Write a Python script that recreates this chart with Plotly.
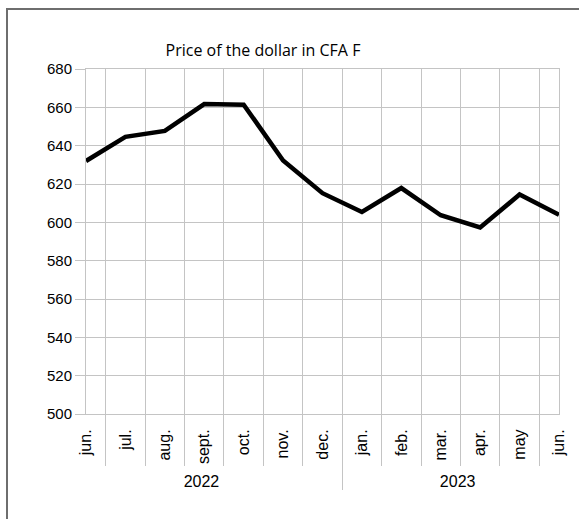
import plotly.graph_objects as go

years = ["2022"] * 7 + ["2023"] * 6
months = ["jun.", "jul.", "aug.", "sept.", "oct.", "nov.", "dec.",
          "jan.", "feb.", "mar.", "apr.", "may", "jun.\u200b"]
price = [632, 644.6, 647.7, 661.7, 661.4, 632.3, 615.2,
         605.4, 617.9, 603.7, 597.3, 614.5, 604]
y_ticks = list(range(500, 681, 20))
title_text = "Price of the dollar in CFA F"

W, H = 579, 519
L, R, T, B = 86, 20, 69, 105
pw, ph = W - L - R, H - T - B

fig = go.Figure(go.Scatter(
    x=[years, months], y=price, mode="lines",
    line=dict(color="black", width=4.5),
    hoverinfo="skip",
))

grid = "#c4c4c4"
fig.update_layout(
    width=W, height=H,
    margin=dict(l=L, r=R, t=T, b=B, pad=0, autoexpand=False),
    paper_bgcolor="white", plot_bgcolor="white",
    showlegend=False,
    font=dict(family="Liberation Sans, Arial, sans-serif", size=16, color="black"),
    title=dict(text=title_text, x=263 / W, xanchor="center", xref="container",
               y=1 - 50 / H, yanchor="middle", yref="container",
               font=dict(family="Open Sans, sans-serif", size=16, color="black")),
    xaxis=dict(type="multicategory", tickangle=-90, ticks="outside", ticklen=51,
               tickcolor=grid, tickson="boundaries", showgrid=True, gridcolor=grid,
               showline=True, linecolor=grid, mirror=True, automargin=False,
               showdividers=True, dividercolor=grid, dividerwidth=1,
               ticklabelstandoff=8, tickfont=dict(size=16)),
    yaxis=dict(range=[500, 680], tickvals=y_ticks, ticks="outside", ticklen=10,
               tickcolor=grid, showgrid=True, gridcolor=grid, automargin=False,
               showline=True, linecolor=grid, mirror=True, zeroline=False,
               tickfont=dict(size=15)),
    shapes=[dict(type="rect", xref="paper", yref="paper",
                 x0=(7 - L) / pw, x1=(W + 10 - L) / pw,
                 y0=-(H + 10 - T - ph) / ph, y1=1 + (T - 9) / ph,
                 line=dict(color="#6e6e6e", width=2), fillcolor="rgba(0,0,0,0)",
                 layer="below")],
)

fig.write_html("out.html", config={"displayModeBar": False},
               post_script="document.body.style.margin='0';")
